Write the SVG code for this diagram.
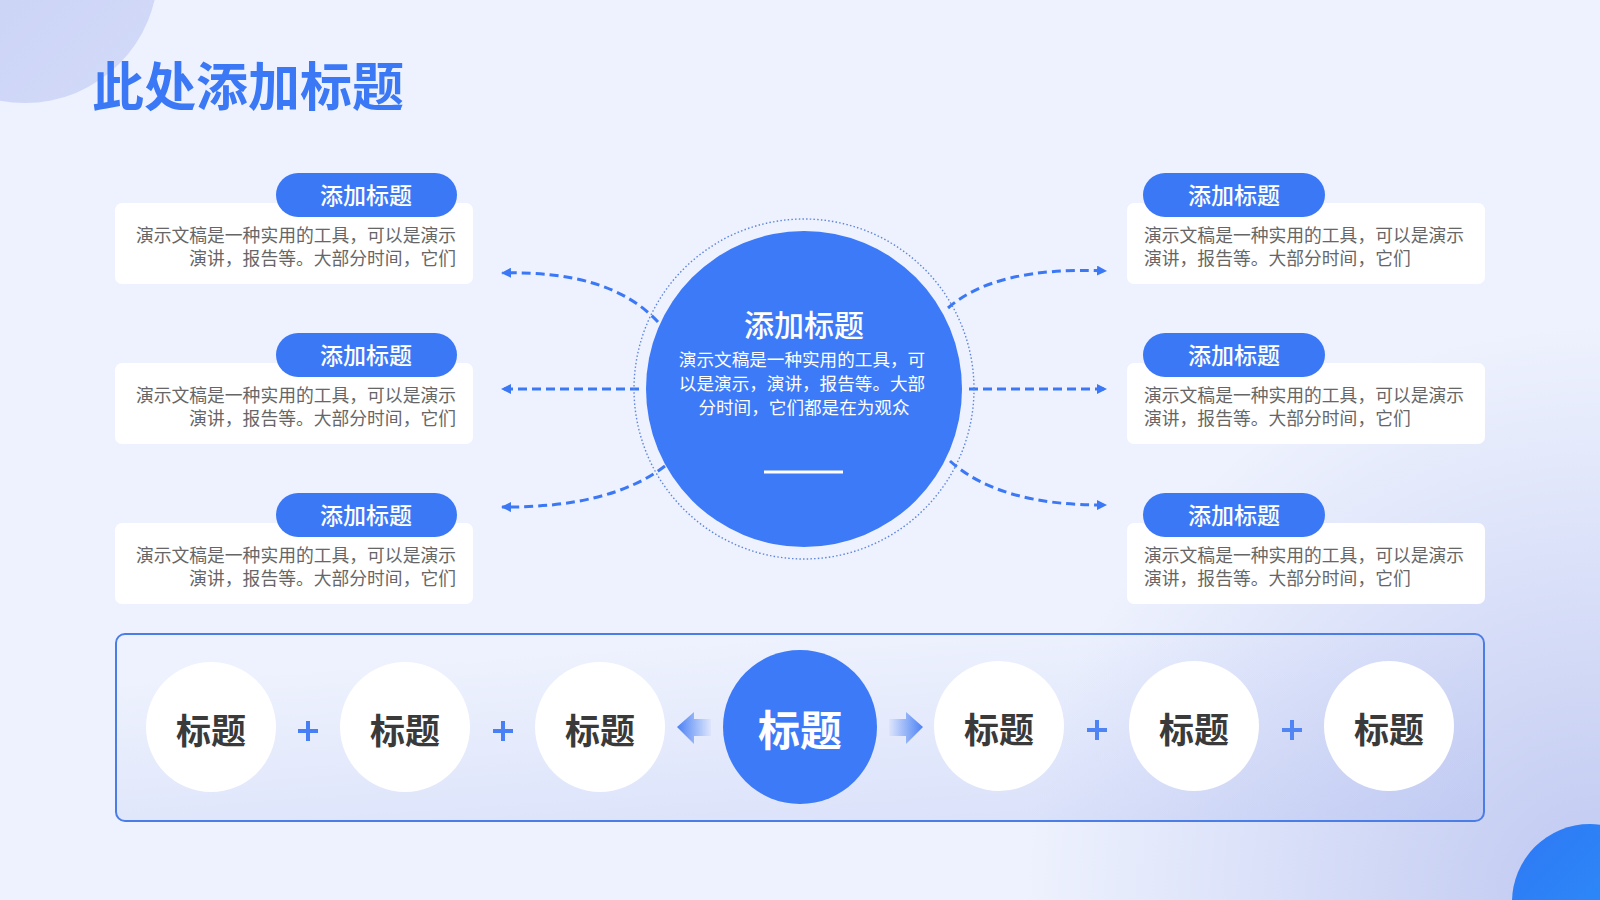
<svg xmlns="http://www.w3.org/2000/svg" width="1600" height="900" viewBox="0 0 1600 900">
<defs>
<radialGradient id="bg" cx="1600" cy="900" r="800" gradientUnits="userSpaceOnUse">
<stop offset="0" stop-color="#bfc8f1"/>
<stop offset="0.72" stop-color="#eef2fe"/>
</radialGradient>
<linearGradient id="tl" x1="0" y1="0" x2="1" y2="1">
<stop offset="0" stop-color="#c6cff5"/>
<stop offset="1" stop-color="#d3daf8"/>
</linearGradient>
<linearGradient id="br" x1="0" y1="0" x2="1" y2="1">
<stop offset="0" stop-color="#2f78f5"/>
<stop offset="1" stop-color="#2a94f9"/>
</linearGradient>
<linearGradient id="panel" x1="0.5" y1="0" x2="1" y2="1">
<stop offset="0" stop-color="#aebcf0" stop-opacity="0"/>
<stop offset="1" stop-color="#aebcf0" stop-opacity="0.35"/>
</linearGradient>
<linearGradient id="arrL" x1="0" y1="0" x2="1" y2="0">
<stop offset="0" stop-color="#3b78f6"/>
<stop offset="1" stop-color="#3b78f6" stop-opacity="0.05"/>
</linearGradient>
<linearGradient id="arrR" x1="1" y1="0" x2="0" y2="0">
<stop offset="0" stop-color="#3b78f6"/>
<stop offset="1" stop-color="#3b78f6" stop-opacity="0.05"/>
</linearGradient>
<marker id="ah" viewBox="0 0 10 10" refX="9" refY="5" markerWidth="10" markerHeight="10" markerUnits="userSpaceOnUse" orient="auto">
<path d="M0,0 L10,5 L0,10 Z" fill="#3b78f6"/>
</marker>
<style>
.cjk{font-family:"Noto Sans CJK SC","Noto Sans",sans-serif;}
.title{font-size:52px;font-weight:700;fill:#3b78f6;}
.pill{fill:#3b78f6;}
.pilltxt{font-size:23px;font-weight:500;fill:#ffffff;text-anchor:middle;}
.box{fill:#ffffff;}
.desc{font-size:17.8px;fill:#666666;}
.dash{fill:none;stroke:#3b78f6;stroke-width:3;stroke-dasharray:9 5;marker-end:url(#ah);}
.wc{fill:#ffffff;}
.lbl{font-size:35px;font-weight:700;fill:#3a3a3a;text-anchor:middle;}
.plus{stroke:#3b78f6;stroke-width:4;fill:none;}
</style>
</defs>
<rect width="1600" height="900" fill="url(#bg)"/>
<circle cx="25" cy="-30" r="133" fill="url(#tl)"/>
<circle cx="1590" cy="902" r="78" fill="url(#br)"/>
<text class="cjk title" x="92" y="106">此处添加标题</text>

<g id="connectors">
<path class="dash" d="M658,322 Q610,270 502,273"/>
<path class="dash" d="M639,389 L502,389"/>
<path class="dash" d="M665,466 Q610,508 502,507"/>
<path class="dash" d="M948,308 Q996,266 1106,271"/>
<path class="dash" d="M969,389 L1106,389"/>
<path class="dash" d="M950,461 Q1000,506 1106,505"/>
<path d="M677,727 L694,712 L694,719 L711,719 L711,736 L694,736 L694,744 Z" fill="url(#arrL)"/>
<path d="M923,727 L906,712 L906,719 L889,719 L889,736 L906,736 L906,744 Z" fill="url(#arrR)"/>
<path class="plus" d="M298,731 L318,731 M308,721 L308,741"/>
<path class="plus" d="M493,731 L513,731 M503,721 L503,741"/>
<path class="plus" d="M1087,730 L1107,730 M1097,720 L1097,740"/>
<path class="plus" d="M1282,730 L1302,730 M1292,720 L1292,740"/>
</g>

<g id="center">
<circle cx="804" cy="389" r="170" fill="none" stroke="#5f86dc" stroke-width="1.4" stroke-dasharray="1.5 2.2"/>
<circle cx="804" cy="389" r="158" fill="#3d7af8"/>
<text class="cjk" x="804" y="336" font-size="30" font-weight="500" fill="#ffffff" text-anchor="middle">添加标题</text>
<text class="cjk" font-size="17.6" fill="#ffffff" text-anchor="middle">
<tspan x="804" y="366">演示文稿是一种实用的工具，可</tspan>
<tspan x="804" y="390">以是演示，演讲，报告等。大部</tspan>
<tspan x="804" y="414">分时间，它们都是在为观众</tspan>
</text>
<line x1="764" y1="472" x2="843" y2="472" stroke="#ffffff" stroke-width="3"/>
</g>

<g id="left1">
<rect class="box" x="115" y="203" width="358" height="81" rx="7"/>
<rect class="pill" x="276" y="173" width="181" height="44" rx="22"/>
<text class="cjk pilltxt" x="366" y="204">添加标题</text>
<text class="cjk desc" text-anchor="end"><tspan x="456" y="242">演示文稿是一种实用的工具，可以是演示</tspan><tspan x="456" y="265">演讲，报告等。大部分时间，它们</tspan></text>
</g>
<g id="left2">
<rect class="box" x="115" y="363" width="358" height="81" rx="7"/>
<rect class="pill" x="276" y="333" width="181" height="44" rx="22"/>
<text class="cjk pilltxt" x="366" y="364">添加标题</text>
<text class="cjk desc" text-anchor="end"><tspan x="456" y="402">演示文稿是一种实用的工具，可以是演示</tspan><tspan x="456" y="425">演讲，报告等。大部分时间，它们</tspan></text>
</g>
<g id="left3">
<rect class="box" x="115" y="523" width="358" height="81" rx="7"/>
<rect class="pill" x="276" y="493" width="181" height="44" rx="22"/>
<text class="cjk pilltxt" x="366" y="524">添加标题</text>
<text class="cjk desc" text-anchor="end"><tspan x="456" y="562">演示文稿是一种实用的工具，可以是演示</tspan><tspan x="456" y="585">演讲，报告等。大部分时间，它们</tspan></text>
</g>
<g id="right1">
<rect class="box" x="1127" y="203" width="358" height="81" rx="7"/>
<rect class="pill" x="1143" y="173" width="182" height="44" rx="22"/>
<text class="cjk pilltxt" x="1234" y="204">添加标题</text>
<text class="cjk desc"><tspan x="1144" y="242">演示文稿是一种实用的工具，可以是演示</tspan><tspan x="1144" y="265">演讲，报告等。大部分时间，它们</tspan></text>
</g>
<g id="right2">
<rect class="box" x="1127" y="363" width="358" height="81" rx="7"/>
<rect class="pill" x="1143" y="333" width="182" height="44" rx="22"/>
<text class="cjk pilltxt" x="1234" y="364">添加标题</text>
<text class="cjk desc"><tspan x="1144" y="402">演示文稿是一种实用的工具，可以是演示</tspan><tspan x="1144" y="425">演讲，报告等。大部分时间，它们</tspan></text>
</g>
<g id="right3">
<rect class="box" x="1127" y="523" width="358" height="81" rx="7"/>
<rect class="pill" x="1143" y="493" width="182" height="44" rx="22"/>
<text class="cjk pilltxt" x="1234" y="524">添加标题</text>
<text class="cjk desc"><tspan x="1144" y="562">演示文稿是一种实用的工具，可以是演示</tspan><tspan x="1144" y="585">演讲，报告等。大部分时间，它们</tspan></text>
</g>

<g id="panel-frame">
<rect x="116" y="634" width="1368" height="187" rx="9" fill="url(#panel)" stroke="#4a7de6" stroke-width="2"/>
</g>
<g id="b1"><circle class="wc" cx="211" cy="727" r="65"/><text class="cjk lbl" x="211" y="744">标题</text></g>
<g id="b2"><circle class="wc" cx="405" cy="727" r="65"/><text class="cjk lbl" x="405" y="744">标题</text></g>
<g id="b3"><circle class="wc" cx="600" cy="727" r="65"/><text class="cjk lbl" x="600" y="744">标题</text></g>
<g id="b4"><circle cx="800" cy="727" r="77" fill="#3d7af8"/><text class="cjk" x="800" y="746" font-size="42" font-weight="700" fill="#ffffff" text-anchor="middle">标题</text></g>
<g id="b5"><circle class="wc" cx="999" cy="726" r="65"/><text class="cjk lbl" x="999" y="743">标题</text></g>
<g id="b6"><circle class="wc" cx="1194" cy="726" r="65"/><text class="cjk lbl" x="1194" y="743">标题</text></g>
<g id="b7"><circle class="wc" cx="1389" cy="726" r="65"/><text class="cjk lbl" x="1389" y="743">标题</text></g>
</svg>
